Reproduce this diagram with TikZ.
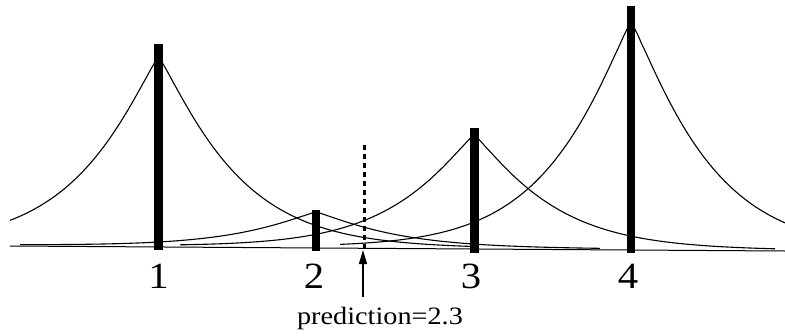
\documentclass[tikz,border=0pt]{standalone}
\usepackage{fontspec}
\setmainfont{Liberation Serif}
\usetikzlibrary{arrows.meta}
\begin{document}
\begin{tikzpicture}[x=1pt,y=-1pt,
  declare function={cb(\x)=245+(\x-10)*0.00645; kk(\d)=exp(-pow(\d/80+0.00001,1.15));},
  curve/.style={line width=1.1pt,black},
  bar/.style={fill=black},
  digit/.style={anchor=base,inner sep=0pt,xscale=1.1,font=\fontsize{37}{37}\selectfont},
  predlabel/.style={anchor=base,inner sep=0pt,xscale=1.13,font=\fontsize{25}{25}\selectfont},
  dashline/.style={line width=3pt,dash pattern=on 5pt off 4pt},
  predarrow/.style={line width=1.6pt,-{Triangle[length=14pt,width=8pt]}}]
\useasboundingbox (0,0) rectangle (785,335);
% baseline
\coordinate (axl) at (10,246);
\coordinate (axr) at (785,251);
\draw[line width=1pt] (axl) -- (axr);
% curves
\draw[curve] plot[domain=10:158.5,samples=80] (\x,{cb(\x)-189*kk(abs(\x-158.5))});
\draw[curve] plot[domain=158.5:470,samples=100] (\x,{cb(\x)-189*kk(abs(\x-158.5))});
\draw[curve] plot[domain=20:316,samples=80] (\x,{cb(\x)-35*kk(abs(\x-316))});
\draw[curve] plot[domain=316:600,samples=80] (\x,{cb(\x)-35*kk(abs(\x-316))});
\draw[curve] plot[domain=180:474,samples=80] (\x,{cb(\x)-113*kk(abs(\x-474))});
\draw[curve] plot[domain=474:775,samples=80] (\x,{cb(\x)-113*kk(abs(\x-474))});
\draw[curve] plot[domain=340:631,samples=100] (\x,{cb(\x)-227*kk(abs(\x-631))});
\draw[curve] plot[domain=631:785,samples=60] (\x,{cb(\x)-227*kk(abs(\x-631))});
% bars
\fill[bar] (154,44) rectangle (163,250);
\fill[bar] (312,210) rectangle (320,251);
\fill[bar] (469.5,128) rectangle (478.5,253);
\fill[bar] (627,6) rectangle (635,253);
% dashed prediction line
\coordinate (dtop) at (364,145);
\coordinate (dbot) at (364,250);
\draw[dashline] (dtop) -- (dbot);
% labels
\node[digit] (l1) at (158.5,288) {1};
\node[digit] (l2) at (314,288) {2};
\node[digit] (l3) at (471,288) {3};
\node[digit] (l4) at (628,288) {4};
\node[predlabel] (pred) at (380,324) {prediction=2.3};
% arrow
\coordinate (atail) at (363,297);
\coordinate (atip) at (363,250);
\draw[predarrow] (atail) -- (atip);
\end{tikzpicture}
\end{document}
